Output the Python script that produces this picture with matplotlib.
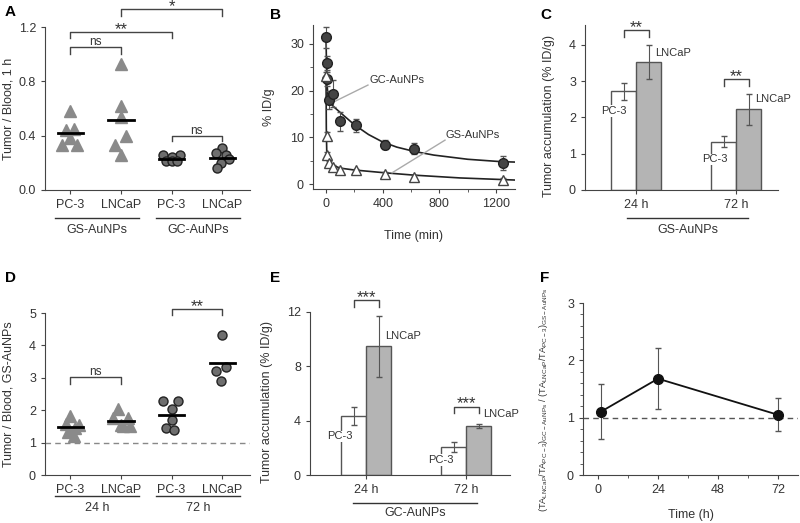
import numpy as np
import matplotlib
matplotlib.use('Agg')
import matplotlib.pyplot as plt
from matplotlib.ticker import MultipleLocator

plt.rcParams['font.family'] = ['Liberation Sans', 'DejaVu Sans']
plt.rcParams['text.color'] = '#333333'
plt.rcParams['axes.labelcolor'] = '#333333'
plt.rcParams['xtick.color'] = '#444444'
plt.rcParams['ytick.color'] = '#444444'
plt.rcParams['xtick.labelcolor'] = '#333333'
plt.rcParams['ytick.labelcolor'] = '#333333'
plt.rcParams['axes.edgecolor'] = '#444444'

# Painel A: tumor / blood, 1 h
a_categorias = ['PC-3', 'LNCaP', 'PC-3', 'LNCaP']
a_gs_pc3 = [0.58, 0.44, 0.45, 0.38, 0.33, 0.33]
a_gs_pc3_dx = [0.0, -0.08, 0.07, 0.0, -0.16, 0.14]
a_gs_lncap = [0.93, 0.62, 0.54, 0.40, 0.33, 0.26]
a_gs_lncap_dx = [0.0, 0.0, 0.0, 0.1, -0.11, 0.0]
a_gc_pc3 = [0.26, 0.26, 0.24, 0.21, 0.21, 0.21]
a_gc_pc3_dx = [-0.16, 0.16, 0.0, -0.1, 0.0, 0.1]
a_gc_lncap = [0.31, 0.27, 0.26, 0.23, 0.20, 0.16]
a_gc_lncap_dx = [0.0, -0.13, 0.07, 0.13, -0.03, -0.1]

# Painel B: farmacocinetica (% ID/g)
b_tempo = [2, 5, 10, 23, 52, 99, 212, 416, 621, 1247]
b_gc = [31.4, 25.9, 22.6, 18.0, 19.3, 13.4, 12.6, 8.4, 7.6, 4.5]
b_gc_err = [2.3, 1.5, 1.5, 2.0, 2.9, 2.0, 1.4, 1.0, 1.2, 1.5]
b_gs = [23.1, 10.3, 6.2, 4.4, 3.7, 3.0, 2.9, 2.1, 1.6, 0.9]
b_gs_err = [1.0, 0.8, 0.6, 0.5, 0.4, 0.4, 0.4, 0.5, 0.4, 0.4]
b_ajuste_t_gc = [0, 3, 8, 15, 30, 60, 120, 200, 300, 400, 500, 620, 760, 1000, 1230, 1334]
b_ajuste_gc = [31.0, 26.0, 21.0, 18.5, 17.3, 16.4, 14.8, 12.7, 10.6, 9.0, 7.9, 7.0, 6.2, 5.3, 4.8, 4.7]
b_ajuste_t_gs = [0, 2, 5, 10, 20, 50, 100, 200, 416, 621, 946, 1247, 1334]
b_ajuste_gs = [23.0, 12.0, 7.0, 5.2, 4.5, 4.0, 3.4, 3.0, 2.4, 1.9, 1.3, 0.95, 0.85]

# Painel C: acumulacao GS-AuNPs
c_tempos = ['24 h', '72 h']
c_pc3 = [2.72, 1.33]
c_pc3_err = [0.23, 0.15]
c_lncap = [3.52, 2.22]
c_lncap_err = [0.47, 0.42]

# Painel D: tumor / blood, GS-AuNPs
d_categorias = ['PC-3', 'LNCaP', 'PC-3', 'LNCaP']
d_24_pc3 = [1.82, 1.58, 1.54, 1.45, 1.34, 1.20]
d_24_pc3_dx = [0.0, -0.09, 0.17, 0.1, -0.04, 0.07]
d_24_lncap = [2.03, 1.75, 1.75, 1.54, 1.52, 1.50]
d_24_lncap_dx = [-0.06, -0.16, 0.14, 0.0, 0.18, 0.05]
d_72_pc3 = [2.29, 2.27, 2.03, 1.70, 1.46, 1.39]
d_72_pc3_dx = [-0.16, 0.12, 0.0, 0.0, -0.1, 0.05]
d_72_lncap = [4.32, 3.32, 3.22, 2.91]
d_72_lncap_dx = [0.0, 0.07, -0.12, -0.03]

# Painel E: acumulacao GC-AuNPs
e_tempos = ['24 h', '72 h']
e_pc3 = [4.35, 2.05]
e_pc3_err = [0.68, 0.35]
e_lncap = [9.48, 3.6]
e_lncap_err = [2.26, 0.12]

# Painel F: razao
f_tempo = [1, 24, 72]
f_razao = [1.1, 1.68, 1.05]
f_err = [0.48, 0.53, 0.29]

W, H = 800, 523
fig = plt.figure(figsize=(8, 5.23), dpi=100)


def eixo(l, t, r, b):
    ax = fig.add_axes([l / W, 1 - b / H, (r - l) / W, (b - t) / H])
    ax.spines['top'].set_visible(False)
    ax.spines['right'].set_visible(False)
    ax.tick_params(direction='out', length=3, labelsize=9, width=0.8)
    return ax


def letra(px, py, txt):
    fig.text(px / W, 1 - py / H, txt, fontsize=11, fontweight='bold', color='black', ha='left', va='center')


def colchete(ax, x0, x1, y_top, y_leg, txt):
    ax.plot([x0, x0, x1, x1], [y_leg, y_top, y_top, y_leg], color='#444444', lw=1, clip_on=False)
    if '*' in txt:
        ax.annotate(txt, ((x0 + x1) / 2, y_top), xytext=(0, -1.4), textcoords='offset points',
                    ha='center', va='baseline', fontsize=12, annotation_clip=False)
    else:
        ax.annotate(txt, ((x0 + x1) / 2, y_top), xytext=(0, 1.5), textcoords='offset points',
                    ha='center', va='baseline', fontsize=8.5, annotation_clip=False)


def grupo(ax, x0, x1, y_line, y_txt, txt):
    tr = ax.get_xaxis_transform()
    ax.plot([x0, x1], [y_line, y_line], transform=tr, color='#333333', lw=1, clip_on=False)
    ax.text((x0 + x1) / 2, y_txt, txt, transform=tr, ha='center', va='center', fontsize=9)


def pontos(ax, x, vals, dx, marker, fc, ms):
    xs = [x + d for d in dx]
    ax.plot(xs, vals, linestyle='none', marker=marker, ms=ms, mfc=fc,
            mec='#222222' if marker == 'o' else fc, mew=1.0, zorder=3)
    m = np.mean(vals)
    ax.plot([x - 0.25, x + 0.25], [m, m], color='black', lw=2, zorder=4)


cinza_tri = '#8a8a8a'
cinza_circ = '#6e6e6e'

# ---------------- A ----------------
ax = eixo(45, 27, 250, 190)
pontos(ax, 0, a_gs_pc3, a_gs_pc3_dx, '^', cinza_tri, 8)
pontos(ax, 1, a_gs_lncap, a_gs_lncap_dx, '^', cinza_tri, 8)
pontos(ax, 2, a_gc_pc3, a_gc_pc3_dx, 'o', cinza_circ, 6.5)
pontos(ax, 3, a_gc_lncap, a_gc_lncap_dx, 'o', cinza_circ, 6.5)
ax.set_xlim(-0.5, 3.55)
ax.set_ylim(0, 1.2)
ax.set_yticks([0, 0.4, 0.8, 1.2])
ax.set_yticklabels(['0.0', '0.4', '0.8', '1.2'])
ax.set_xticks(range(4))
ax.set_xticklabels(a_categorias)
ax.set_ylabel('Tumor / Blood, 1 h', fontsize=9)
ax.yaxis.set_label_coords(-0.15, 0.5)
colchete(ax, 0, 1, 1.05, 1.0, 'ns')
colchete(ax, 0, 2, 1.16, 1.12, '**')
colchete(ax, 1, 3, 1.33, 1.28, '*')
colchete(ax, 2, 3, 0.40, 0.36, 'ns')
grupo(ax, -0.3, 1.35, -0.172, -0.245, 'GS-AuNPs')
grupo(ax, 1.7, 3.35, -0.172, -0.245, 'GC-AuNPs')
letra(5, 12, 'A')

# ---------------- B ----------------
ax = eixo(313, 25, 515, 189)
ax.plot(b_ajuste_t_gc, b_ajuste_gc, color='#222222', lw=1.2, zorder=2)
ax.plot(b_ajuste_t_gs, b_ajuste_gs, color='#222222', lw=1.2, zorder=2)
ax.errorbar(b_tempo, b_gc, yerr=b_gc_err, fmt='o', ms=7, mfc='#444444', mec='#222222',
            ecolor='#555555', elinewidth=0.8, capsize=2, zorder=3)
ax.errorbar(b_tempo, b_gs, yerr=b_gs_err, fmt='^', ms=6.5, mfc='white', mec='#444444',
            ecolor='#555555', elinewidth=0.8, capsize=2, zorder=3)
ax.plot([296, 42], [21.2, 17.4], color='#aaaaaa', lw=1)
ax.text(310, 22.3, 'GC-AuNPs', fontsize=8, ha='left', va='center')
ax.plot([840, 466], [9.4, 2.4], color='#aaaaaa', lw=1)
ax.text(840, 10.5, 'GS-AuNPs', fontsize=8, ha='left', va='center')
ax.set_xlim(-92, 1334)
ax.set_ylim(-1.07, 34.07)
ax.set_xticks([0, 400, 800, 1200])
ax.set_yticks([0, 10, 20, 30])
ax.xaxis.set_minor_locator(MultipleLocator(200))
ax.yaxis.set_minor_locator(MultipleLocator(5))
ax.tick_params(which='minor', direction='out', length=2)
ax.set_ylabel('% ID/g', fontsize=9)
ax.yaxis.set_label_coords(-0.19, 0.5)
ax.set_xlabel('Time (min)', fontsize=9)
ax.xaxis.set_label_coords(0.5, -0.25)
letra(270, 15, 'B')


def barras(ax, pc3, pc3_err, lncap, lncap_err, rotulos, lab_pos):
    g = np.arange(len(pc3))
    w = 0.25
    ax.bar(g - w / 2, pc3, w, yerr=pc3_err, color='white', edgecolor='#555555', lw=1,
           error_kw=dict(ecolor='#555555', elinewidth=0.8, capsize=2))
    ax.bar(g + w / 2, lncap, w, yerr=lncap_err, color='#b4b4b4', edgecolor='#555555', lw=1,
           error_kw=dict(ecolor='#555555', elinewidth=0.8, capsize=2))
    ax.set_xticks(g)
    ax.set_xticklabels(rotulos)
    for (x, y, txt, ha) in lab_pos:
        ax.text(x, y, txt, fontsize=8, ha=ha, va='center', zorder=5,
                bbox=dict(facecolor='white', edgecolor='none', pad=0.5) if txt == 'PC-3' else None)


# ---------------- C ----------------
ax = eixo(585, 25, 778, 190)
barras(ax, c_pc3, c_pc3_err, c_lncap, c_lncap_err, c_tempos,
       [(-0.22, 2.18, 'PC-3', 'center'), (0.19, 3.77, 'LNCaP', 'left'),
        (0.785, 0.85, 'PC-3', 'center'), (1.19, 2.5, 'LNCaP', 'left')])
ax.set_xlim(-0.51, 1.42)
ax.set_ylim(0, 4.55)
ax.set_yticks([0, 1, 2, 3, 4])
ax.set_ylabel('Tumor accumulation (% ID/g)', fontsize=9)
ax.yaxis.set_label_coords(-0.155, 0.45)
colchete(ax, -0.125, 0.125, 4.40, 4.22, '**')
colchete(ax, 0.875, 1.125, 3.06, 2.87, '**')
grupo(ax, -0.09, 1.12, -0.17, -0.242, 'GS-AuNPs')
letra(540, 15, 'C')

# ---------------- D ----------------
ax = eixo(45, 313, 250, 475)
ax.axhline(1, color='#888888', lw=1, ls=(0, (4, 3)), zorder=1)
pontos(ax, 0, d_24_pc3, d_24_pc3_dx, '^', cinza_tri, 8)
pontos(ax, 1, d_24_lncap, d_24_lncap_dx, '^', cinza_tri, 8)
pontos(ax, 2, d_72_pc3, d_72_pc3_dx, 'o', cinza_circ, 6.5)
pontos(ax, 3, d_72_lncap, d_72_lncap_dx, 'o', cinza_circ, 6.5)
ax.set_xlim(-0.5, 3.55)
ax.set_ylim(0, 5)
ax.set_yticks([0, 1, 2, 3, 4, 5])
ax.set_xticks(range(4))
ax.set_xticklabels(d_categorias)
ax.set_ylabel('Tumor / Blood, GS-AuNPs', fontsize=9)
ax.yaxis.set_label_coords(-0.15, 0.5)
colchete(ax, 0, 1, 3.03, 2.82, 'ns')
colchete(ax, 2, 3, 5.12, 4.94, '**')
grupo(ax, -0.3, 1.35, -0.13, -0.205, '24 h')
grupo(ax, 1.7, 3.35, -0.13, -0.205, '72 h')
letra(5, 278, 'D')

# ---------------- E ----------------
ax = eixo(310, 312, 510, 475)
barras(ax, e_pc3, e_pc3_err, e_lncap, e_lncap_err, e_tempos,
       [(-0.26, 2.85, 'PC-3', 'center'), (0.19, 10.2, 'LNCaP', 'left'),
        (0.75, 1.1, 'PC-3', 'center'), (1.17, 4.5, 'LNCaP', 'left')])
ax.set_xlim(-0.56, 1.44)
ax.set_ylim(0, 12)
ax.set_yticks([0, 4, 8, 12])
ax.set_ylabel('Tumor accumulation (% ID/g)', fontsize=9)
ax.yaxis.set_label_coords(-0.185, 0.45)
colchete(ax, -0.125, 0.125, 12.9, 12.4, '***')
colchete(ax, 0.875, 1.125, 5.03, 4.55, '***')
grupo(ax, -0.13, 1.11, -0.17, -0.235, 'GC-AuNPs')
letra(270, 278, 'E')

# ---------------- F ----------------
ax = eixo(583, 303, 798, 475)
ax.axhline(1, color='#555555', lw=1, ls=(0, (4, 3)), zorder=1)
ax.errorbar(f_tempo, f_razao, yerr=f_err, fmt='-o', color='#111111', ms=7, lw=1.3,
            ecolor='#555555', elinewidth=0.8, capsize=2, zorder=3)
ax.set_xlim(-6, 80)
ax.set_ylim(0, 3)
ax.set_xticks([0, 24, 48, 72])
ax.set_yticks([0, 1, 2, 3])
ax.xaxis.set_minor_locator(MultipleLocator(12))
ax.yaxis.set_minor_locator(MultipleLocator(0.2))
ax.tick_params(which='minor', direction='out', length=2)
ax.set_xlabel('Time (h)', fontsize=9)
ax.xaxis.set_label_coords(0.5, -0.2)
ax.set_ylabel(r'(TA$_{\mathregular{LNCaP}}$/TA$_{\mathregular{PC-3}}$)$_{\mathregular{GC-AuNPs}}$'
              r' / (TA$_{\mathregular{LNCaP}}$/TA$_{\mathregular{PC-3}}$)$_{\mathregular{GS-AuNPs}}$',
              fontsize=6.6)
ax.yaxis.set_label_coords(-0.155, 0.44)
letra(540, 278, 'F')

fig.savefig('out.png', dpi=100)
